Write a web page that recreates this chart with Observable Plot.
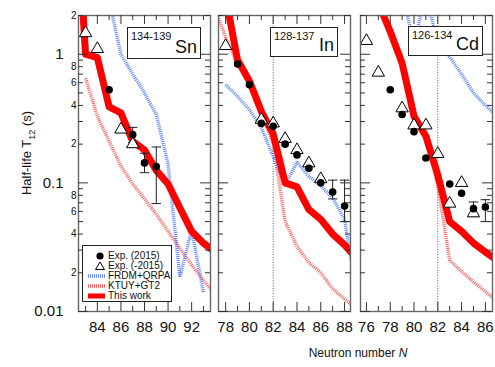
<!DOCTYPE html>
<html><head><meta charset="utf-8">
<script src="https://cdn.jsdelivr.net/npm/d3@7"></script>
<script src="https://cdn.jsdelivr.net/npm/@observablehq/plot@0.6"></script>
<style>
body{margin:0;background:#fff;}
#chart{position:relative;width:495px;height:367px;font-family:"Liberation Sans",Arial,sans-serif;overflow:hidden;background:#fff;color:#111;}
#chart svg{position:absolute;top:0;}
.box{position:absolute;border:1.2px solid #222;background:#fff;box-sizing:border-box;}
.box .sup{position:absolute;left:3px;top:2px;font-size:11px;}
.box .el{position:absolute;right:3px;bottom:0px;font-size:18px;}
.legend{position:absolute;border:1px solid #222;background:#fff;box-sizing:border-box;font-size:10px;}
.legend .row{position:absolute;left:0;height:10px;line-height:10px;white-space:nowrap;}
.legend .row svg{position:absolute;left:3px;top:0;}
.legend .row span{position:absolute;left:25px;top:0;}
</style></head><body><div id="chart"></div><script>
// ---------- data ----------
const seriesNames = ["Exp. (2015)", "Exp. (-2015)", "FRDM+QRPA", "KTUY+GT2", "This work"];
const yMajorTicks = [0.01, 0.1, 1];
const yMinorTicks = [0.02,0.03,0.04,0.05,0.06,0.07,0.08,0.09,0.2,0.3,0.4,0.5,0.6,0.7,0.8,0.9,2];
const yMinorLabels = [0.02,0.04,0.06,0.08,0.2,0.4,0.6,0.8,2];
const shellN = 82;

// Sn (134-139)
const snDomain = [82.4, 93.6];
const snXLabels = [84, 86, 88, 90, 92];
const snWorkN = [82, 83, 84, 85, 86, 87, 88, 89, 90, 91, 92, 93, 94];
const snWorkT = [30, 1.0, 0.94, 0.39, 0.35, 0.21, 0.18, 0.125, 0.098, 0.064, 0.042, 0.034, 0.029];
const snKtuyN = [83, 84, 85, 86, 87, 88, 89, 90, 91, 92, 93, 94];
const snKtuyT = [0.65, 0.33, 0.21, 0.135, 0.098, 0.075, 0.057, 0.042, 0.031, 0.023, 0.0175, 0.0135];
const snFrdmN = [85, 86, 87, 88, 89, 90, 91, 92, 93];
const snFrdmT = [2.6, 1.0, 0.7, 0.5, 0.34, 0.14, 0.0185, 0.043, 0.014];
const snExpN = [85, 87, 88, 89];
const snExpT = [0.53, 0.237, 0.143, 0.134];
const snExpLo = [null, 0.205, 0.12, 0.069];
const snExpHi = [null, 0.27, 0.17, 0.19];
const snOldN = [83, 84, 86, 87];
const snOldT = [1.46, 1.1, 0.26, 0.2];

// In (128-137)
const inDomain = [77.4, 88.5];
const inXLabels = [78, 80, 82, 84, 86, 88];
const inWorkN = [78, 79, 80, 81, 82, 83, 84, 85, 86, 87, 88, 89];
const inWorkT = [2.8, 0.9, 0.62, 0.36, 0.24, 0.1, 0.093, 0.062, 0.052, 0.04, 0.033, 0.026];
const inKtuyN = [77, 78, 79, 80, 81, 82, 83, 84, 85, 86, 87, 88, 89];
const inKtuyT = [2.4, 1.35, 0.85, 0.58, 0.35, 0.2, 0.05, 0.032, 0.024, 0.02, 0.015, 0.0125, 0.0105];
const inFrdmN = [78, 79, 80, 81, 82, 83, 84, 85, 86, 87, 88, 89];
const inFrdmT = [0.58, 0.47, 0.37, 0.27, 0.16, 0.096, 0.145, 0.112, 0.095, 0.076, 0.052, 0.014];
const inExpN = [79, 80, 81, 82, 83, 84, 85, 86, 87, 88];
const inExpT = [0.84, 0.58, 0.29, 0.275, 0.2, 0.165, 0.13, 0.1, 0.085, 0.066];
const inExpLo = [null, null, null, null, null, null, null, null, 0.075, 0.05];
const inExpHi = [null, null, null, null, null, null, null, null, 0.105, 0.105];
const inOldN = [78, 81, 82, 83, 84, 85, 86];
const inOldT = [1.16, 0.31, 0.29, 0.22, 0.18, 0.142, 0.107];

// Cd (126-134)
const cdDomain = [75.5, 86.6];
const cdXLabels = [76, 78, 80, 82, 84, 86];
const cdWorkN = [77, 78, 79, 80, 81, 82, 83, 84, 85, 86, 87];
const cdWorkT = [2.5, 1.5, 0.85, 0.33, 0.23, 0.115, 0.05, 0.042, 0.034, 0.029, 0.025];
const cdKtuyN = [77, 78, 79, 80, 81, 82, 83, 84, 85, 86, 87];
const cdKtuyT = [2.5, 1.45, 0.82, 0.32, 0.22, 0.095, 0.025, 0.0205, 0.017, 0.0143, 0.012];
const cdFrdmN = [79, 80, 81, 82, 83, 84, 85, 86, 87];
const cdFrdmT = [3.0, 1.2, 3.0, 1.2, 0.95, 0.7, 0.5, 0.4, 0.33];
const cdExpN = [78, 79, 80, 81, 83, 84, 85, 86];
const cdExpT = [0.53, 0.34, 0.25, 0.156, 0.098, 0.083, 0.063, 0.065];
const cdExpLo = [null, null, null, null, null, null, 0.055, 0.05];
const cdExpHi = [null, null, null, null, null, null, 0.071, 0.074];
const cdOldN = [76, 77, 79, 80, 81, 82, 83, 84, 85];
const cdOldT = [1.27, 0.72, 0.38, 0.28, 0.28, 0.168, 0.069, 0.1, 0.058];

// ---------- helpers ----------
const zip = (ns, ts) => ns.map((n, i) => ({n, t: ts[i]}));
const errs = (ns, lo, hi) => ns.map((n, i) => ({n, lo: lo[i], hi: hi[i]})).filter(d => d.lo != null);
const mantissa = d => String(Math.round(d / Math.pow(10, Math.floor(Math.log10(d) + 1e-9))));

const C = {
  work: "#ff0000", ktuy: "#ff3a3a", frdm: "#3566ff", tick: "#333", frame: "#666"
};
const FONT = '"Liberation Sans", Arial, sans-serif';
const DOT = {strokeOpacity: 0.8, strokeWidth: 3.4, strokeDasharray: "1,1", strokeLinecap: "butt", strokeLinejoin: "miter", clip: true};

function panel(cfg) {
  const H = 340, mT = 15, mB = 29;
  const fh = H - mT - mB, fw = cfg.width - cfg.mL - cfg.mR;
  const ints = d3.range(Math.ceil(cfg.domain[0]), Math.floor(cfg.domain[1]) + 1);
  const evenN = ints.filter(n => n % 2 === 0), oddN = ints.filter(n => n % 2 !== 0);
  const err = cfg.err;
  const marks = [];
  if (cfg.shell) marks.push(Plot.ruleX([shellN], {x: d => d, stroke: "#444", strokeWidth: 0.9, strokeDasharray: "1,1.6"}));
  marks.push(
    Plot.line(cfg.ktuy, {x: "n", y: "t", stroke: C.ktuy, ...DOT}),
    Plot.line(cfg.frdm, {x: "n", y: "t", stroke: C.frdm, ...DOT}),
    Plot.line(cfg.work, {x: "n", y: "t", stroke: C.work, strokeWidth: 7, clip: true}),
    Plot.ruleX(err, {x: "n", y1: "lo", y2: "hi", stroke: "#222", strokeWidth: 1}),
    Plot.link(err, {x1: d => d.n - 0.4, x2: d => d.n + 0.4, y1: "lo", y2: "lo", stroke: "#222", strokeWidth: 1}),
    Plot.link(err, {x1: d => d.n - 0.4, x2: d => d.n + 0.4, y1: "hi", y2: "hi", stroke: "#222", strokeWidth: 1}),
    Plot.dot(cfg.old, {x: "n", y: "t", symbol: "triangle", r: 4.6, fill: "white", stroke: "black", strokeWidth: 1}),
    Plot.dot(cfg.exp, {x: "n", y: "t", r: 3.8, fill: "black", stroke: "none"}),
    Plot.frame({stroke: C.frame, strokeWidth: 1.4}),
    Plot.tickX(evenN, {x: d => d, insetTop: fh - 9, stroke: C.tick}),
    Plot.tickX(oddN, {x: d => d, insetTop: fh - 5, stroke: C.tick}),
    Plot.tickX(evenN, {x: d => d, insetBottom: fh - 9, stroke: C.tick}),
    Plot.tickX(oddN, {x: d => d, insetBottom: fh - 5, stroke: C.tick}),
    Plot.tickY(yMajorTicks, {y: d => d, insetRight: fw - 10, stroke: C.tick}),
    Plot.tickY(yMinorTicks, {y: d => d, insetRight: fw - 5, stroke: C.tick}),
    Plot.tickY(yMajorTicks, {y: d => d, insetLeft: fw - 10, stroke: C.tick}),
    Plot.tickY(yMinorTicks, {y: d => d, insetLeft: fw - 5, stroke: C.tick}),
    Plot.axisX(cfg.xLabels, {anchor: "bottom", tickSize: 0, tickPadding: 10, fontSize: 15, label: null, tickFormat: d => String(d)})
  );
  if (cfg.showY) {
    marks.push(
      Plot.text(yMajorTicks, {y: d => d, text: d => String(d), frameAnchor: "left", textAnchor: "end", dx: -15, fontSize: 15}),
      Plot.text(yMinorLabels, {y: d => d, text: mantissa, frameAnchor: "left", textAnchor: "end", dx: -2, fontSize: 10})
    );
  }
  const svg = Plot.plot({
    width: cfg.width, height: H,
    marginTop: mT, marginBottom: mB, marginLeft: cfg.mL, marginRight: cfg.mR,
    x: {domain: cfg.domain},
    y: {type: "log", domain: [0.01, 2], axis: null},
    style: {overflow: "visible", background: "transparent", fontFamily: FONT, color: "#111"},
    marks
  });
  svg.style.left = cfg.left + "px";
  return svg;
}

const chart = document.getElementById("chart");
chart.appendChild(panel({
  left: 0, width: 213, mL: 78, mR: 3, domain: snDomain, xLabels: snXLabels, showY: true,
  work: zip(snWorkN, snWorkT), ktuy: zip(snKtuyN, snKtuyT), frdm: zip(snFrdmN, snFrdmT),
  exp: zip(snExpN, snExpT), old: zip(snOldN, snOldT), err: errs(snExpN, snExpLo, snExpHi)
}));
chart.appendChild(panel({
  left: 213, width: 140, mL: 5, mR: 3, domain: inDomain, xLabels: inXLabels, shell: true,
  work: zip(inWorkN, inWorkT), ktuy: zip(inKtuyN, inKtuyT), frdm: zip(inFrdmN, inFrdmT),
  exp: zip(inExpN, inExpT), old: zip(inOldN, inOldT), err: errs(inExpN, inExpLo, inExpHi)
}));
chart.appendChild(panel({
  left: 353, width: 142, mL: 7, mR: 3, domain: cdDomain, xLabels: cdXLabels, shell: true,
  work: zip(cdWorkN, cdWorkT), ktuy: zip(cdKtuyN, cdKtuyT), frdm: zip(cdFrdmN, cdFrdmT),
  exp: zip(cdExpN, cdExpT), old: zip(cdOldN, cdOldT), err: errs(cdExpN, cdExpLo, cdExpHi)
}));

// nucleus label boxes
const boxes = [
  {range: "134-139", el: "Sn", left: 127, top: 27, w: 74, h: 32},
  {range: "128-137", el: "In", left: 270, top: 27, w: 68, h: 30},
  {range: "126-134", el: "Cd", left: 408, top: 26, w: 75, h: 30}
];
for (const b of boxes) {
  const d = document.createElement("div");
  d.className = "box";
  Object.assign(d.style, {left: b.left + "px", top: b.top + "px", width: b.w + "px", height: b.h + "px"});
  d.innerHTML = `<span class="sup">${b.range}</span><span class="el">${b.el}</span>`;
  chart.appendChild(d);
}

// legend
const lg = document.createElement("div");
lg.className = "legend";
Object.assign(lg.style, {left: "82px", top: "245px", width: "90px", height: "57px"});
const symbols = [
  `<circle cx="14" cy="5" r="3.6" fill="black"/>`,
  `<path d="M14,1 L18.5,8.5 L9.5,8.5 Z" fill="white" stroke="black" stroke-width="1"/>`,
  `<line x1="2" x2="19" y1="5" y2="5" stroke="${C.frdm}" stroke-opacity="0.8" stroke-width="3.4" stroke-dasharray="1,1"/>`,
  `<line x1="2" x2="19" y1="5" y2="5" stroke="${C.ktuy}" stroke-opacity="0.8" stroke-width="3.4" stroke-dasharray="1,1"/>`,
  `<line x1="2" x2="19" y1="5" y2="5" stroke="${C.work}" stroke-width="5"/>`
];
const rowTops = [5, 14.5, 24.5, 34.5, 45];
seriesNames.forEach((name, i) => {
  const r = document.createElement("div");
  r.className = "row";
  r.style.top = rowTops[i] + "px";
  r.innerHTML = `<svg width="22" height="10">${symbols[i]}</svg><span>${name}</span>`;
  lg.appendChild(r);
});
chart.appendChild(lg);

// axis titles
const yl = document.createElement("div");
Object.assign(yl.style, {position: "absolute", left: "26px", top: "153px", transform: "translate(-50%,-50%) rotate(-90deg)",
  whiteSpace: "nowrap", fontSize: "13px"});
yl.innerHTML = `Half-life T<span style="font-size:9px;position:relative;top:4px">12</span> (s)`;
chart.appendChild(yl);
const xl = document.createElement("div");
Object.assign(xl.style, {position: "absolute", left: "358px", top: "353px", transform: "translate(-50%,-50%)",
  whiteSpace: "nowrap", fontSize: "12px"});
xl.innerHTML = `Neutron number <i>N</i>`;
chart.appendChild(xl);
</script></body></html>
